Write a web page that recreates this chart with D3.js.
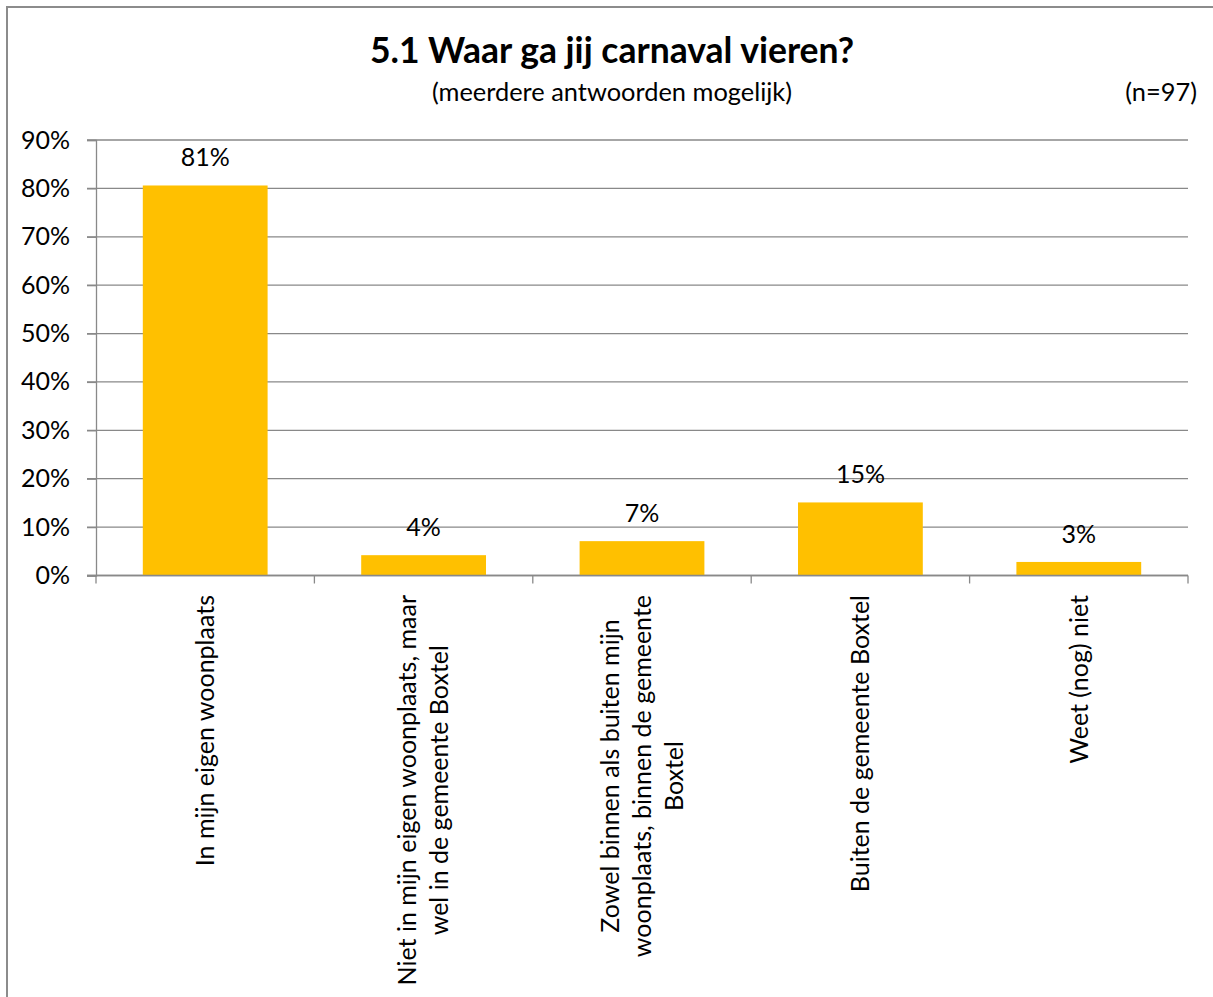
<!DOCTYPE html>
<html>
<head>
<meta charset="utf-8">
<script src="https://cdn.jsdelivr.net/npm/d3@7"></script>
<style>
  html, body { margin: 0; padding: 0; background: #fff; }
  svg { display: block; }
  text { font-family: Lato, "Open Sans", "Liberation Sans", sans-serif; fill: #000; }
</style>
</head>
<body>
<svg id="chart" width="1213" height="997"></svg>
<script>
// ---- data ----
const title = "5.1 Waar ga jij carnaval vieren?";
const subtitle = "(meerdere antwoorden mogelijk)";
const sampleNote = "(n=97)";
const categories = [
  "In mijn eigen woonplaats",
  "Niet in mijn eigen woonplaats, maar\nwel in de gemeente Boxtel",
  "Zowel binnen als buiten mijn\nwoonplaats, binnen de gemeente\nBoxtel",
  "Buiten de gemeente Boxtel",
  "Weet (nog) niet"
];
const values = [0.806, 0.042, 0.071, 0.151, 0.028];
const yTicks = [0, 0.1, 0.2, 0.3, 0.4, 0.5, 0.6, 0.7, 0.8, 0.9];

// ---- layout ----
const W = 1213, H = 997;
const plot = { left: 96, right: 1188, top: 140, bottom: 575.5 };
const fs = 25;          // axis / label font size
const gridColor = "#898989";
const barColor = "#FFC000";

const svg = d3.select("#chart");
svg.append("rect").attr("width", W).attr("height", H).attr("fill", "#fff");

// outer chart frame (continues beyond the visible area)
svg.append("rect")
  .attr("x", 7).attr("y", 7).attr("width", 1400).attr("height", 1200)
  .attr("fill", "none").attr("stroke", "#8c8c8c").attr("stroke-width", 2);

const x = d3.scaleBand()
  .domain(categories)
  .range([plot.left, plot.right])
  .paddingInner(0.75 / 1.75)
  .paddingOuter(0.75 / 3.5);

const y = d3.scaleLinear().domain([0, 0.9]).range([plot.bottom, plot.top]);

// gridlines
svg.append("g").selectAll("line").data(yTicks).join("line")
  .attr("x1", plot.left - 9).attr("x2", plot.right)
  .attr("y1", d => y(d)).attr("y2", d => y(d))
  .attr("stroke", gridColor).attr("stroke-width", 1.3);

// y axis
const yAxis = svg.append("g")
  .attr("transform", `translate(${plot.left},0)`)
  .call(d3.axisLeft(y).tickValues(yTicks).tickFormat(d3.format(".0%")).tickSize(9).tickPadding(17));
yAxis.select(".domain").attr("stroke", gridColor).attr("stroke-width", 1.3);
yAxis.selectAll(".tick line").attr("stroke", gridColor).attr("stroke-width", 1.3);
yAxis.selectAll(".tick text").style("font-size", fs + "px").attr("fill", "#000")
  .style("font-family", "Lato, 'Open Sans', sans-serif");

// bars
svg.append("g").selectAll("rect").data(values).join("rect")
  .attr("x", (d, i) => x(categories[i]))
  .attr("width", x.bandwidth())
  .attr("y", d => y(d))
  .attr("height", d => y(0) - y(d))
  .attr("fill", barColor);

// x axis line & boundary ticks
svg.append("line")
  .attr("x1", plot.left - 9).attr("x2", plot.right)
  .attr("y1", y(0)).attr("y2", y(0))
  .attr("stroke", gridColor).attr("stroke-width", 1.3);
const bounds = d3.range(categories.length + 1).map(i => plot.left + i * x.step());
svg.append("g").selectAll("line").data(bounds).join("line")
  .attr("x1", d => d).attr("x2", d => d)
  .attr("y1", y(0)).attr("y2", y(0) + 8)
  .attr("stroke", gridColor).attr("stroke-width", 1.3);

// data labels
svg.append("g").selectAll("text").data(values).join("text")
  .attr("x", (d, i) => x(categories[i]) + x.bandwidth() / 2)
  .attr("y", d => y(d) - 19)
  .attr("text-anchor", "middle")
  .style("font-size", fs + "px")
  .text(d3.format(".0%"));

// category labels (rotated, multi-line, centered)
const lineH = 32;
const labelTop = 595;
categories.forEach((cat, i) => {
  const lines = cat.split("\n");
  const cx = x(cat) + x.bandwidth() / 2;
  const g = svg.append("g").attr("transform", `translate(${cx},${labelTop}) rotate(-90)`);
  const texts = lines.map((ln, j) => g.append("text")
    .attr("text-anchor", "middle")
    .attr("dy", "0.35em")
    .style("font-size", fs + "px")
    .attr("y", (j - (lines.length - 1) / 2) * lineH)
    .text(ln));
  const maxLen = d3.max(texts, t => t.node().getComputedTextLength());
  texts.forEach(t => t.attr("x", -maxLen / 2));
});

// titles
svg.append("text").attr("x", 612).attr("y", 63).attr("text-anchor", "middle")
  .style("font-size", "35.5px").style("font-weight", "bold").text(title);
svg.append("text").attr("x", 612).attr("y", 101).attr("text-anchor", "middle")
  .style("font-size", "25.4px").text(subtitle);
svg.append("text").attr("x", 1197).attr("y", 101).attr("text-anchor", "end")
  .style("font-size", "25.4px").text(sampleNote);
</script>
</body>
</html>
